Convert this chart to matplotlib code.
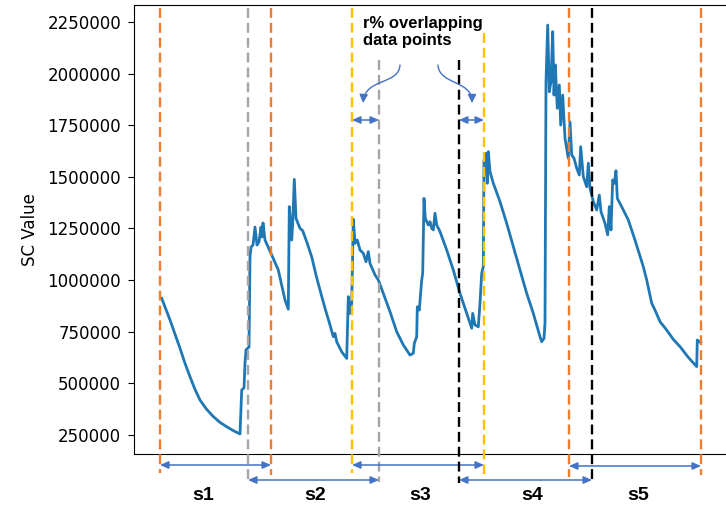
import matplotlib
matplotlib.use("Agg")
import matplotlib.pyplot as plt
import matplotlib.ticker as mticker
import matplotlib.transforms as mtransforms
from matplotlib.patches import FancyArrowPatch
from matplotlib.path import Path

# ---------------------------------------------------------------- data
# sample time and SC value of the monitored series
t = [1.7, 10, 15, 20, 25, 30, 35, 40, 46.7, 53.3, 60, 66.7, 73.3, 80,
     81.7, 84, 85, 86, 89, 90, 91, 93, 95, 97, 99, 101, 102, 103, 105,
     111.7, 118.3, 125, 128.3, 129.3, 131.7, 132.7, 134.3, 136, 140, 142.7,
     146.7, 151.7, 156, 160, 165, 170, 173.3, 175, 176.7, 181.7, 186.7,
     188.3, 190, 191.7, 193.3, 195, 197.3, 200, 203.3, 206, 208.3, 210,
     215, 218.3, 223.3, 230, 236.7, 243.3, 250, 253.3, 254.3, 256.7,
     257.3, 259.3, 261.7, 262.7, 264, 265.3, 268.3, 270, 271.7, 273.3,
     275, 276.7, 280, 286.7, 293.3, 300, 306.7, 311.7, 312.7, 315, 318.3,
     320, 321.7, 323.3, 324, 326, 327.3, 328.3, 330, 333.3, 340, 346.7,
     353.3, 360, 366.7, 373.3, 380, 381.7, 384, 385, 386, 387.7, 389.3,
     391, 392.7, 394, 395.3, 397.3, 399.3, 400.7, 402.7, 405, 408.3, 410,
     411.7, 414, 416.7, 419.3, 420.7, 423.3, 426.7, 428.3, 430, 433.3,
     436.7, 439.3, 441, 445, 447.7, 449.3, 451, 452.7, 454.3, 456, 457.3,
     463.3, 468.3, 475, 483.3, 486.7, 491.7, 495, 500, 506.7, 513.3, 520,
     528.3, 536.7, 537.3, 540.7]
sc_value = [912000, 807000, 739000, 670000, 597000, 532000, 471000, 419000,
            374000, 339000, 311000, 290000, 271000, 255000,
            468000, 478000, 599000, 662000, 676000, 1112000, 1160000,
            1170000, 1257000, 1170000, 1185000, 1257000, 1209000, 1277000,
            1194000, 1122000, 1049000, 904000, 859000, 1356000, 1194000,
            1277000, 1488000, 1299000, 1251000, 1239000, 1186000, 1113000,
            1025000, 952000, 864000, 783000, 726000, 742000, 702000, 653000,
            621000, 920000, 839000, 888000, 1295000, 1178000, 1194000,
            1146000, 1130000, 1089000, 1138000, 1081000, 1025000, 1001000,
            936000, 847000, 750000, 686000, 637000, 646000, 694000, 726000,
            871000, 855000, 1001000, 1033000, 1396000, 1299000, 1267000,
            1283000, 1251000, 1243000, 1324000, 1267000, 1235000, 1146000,
            1049000, 936000, 839000, 767000, 839000, 783000, 774000, 888000,
            1033000, 1065000, 1582000, 1614000, 1469000, 1622000, 1525000,
            1469000, 1380000, 1275000, 1162000, 1049000, 936000, 839000,
            726000, 702000, 718000, 791000, 1961000, 2235000, 1912000,
            1961000, 2203000, 1896000, 2042000, 1832000, 1945000, 1751000,
            1896000, 1687000, 1590000, 1767000, 1606000, 1590000, 1542000,
            1509000, 1646000, 1501000, 1452000, 1566000, 1445000, 1380000,
            1340000, 1412000, 1331000, 1275000, 1219000, 1356000, 1243000,
            1485000, 1469000, 1530000, 1396000, 1340000, 1291000, 1194000,
            1065000, 1001000, 888000, 855000, 799000, 758000, 713000, 678000,
            626000, 581000, 710000, 697000]

# sliding windows (start / end sample)
window_names = ["s1", "s2", "s3", "s4", "s5"]
window_start = [0, 88, 192, 299, 409]
window_end = [111, 219, 324, 432, 541]

# ---------------------------------------------------------------- styling
W, H = 726, 507
AX_L, AX_T, AX_B = 134, 5, 454.3          # axes frame in pixels
XLIM = (-26, 566)
YLIM = (156500, 2332300)

window_colors = ["#ED7D31", "#A5A5A5", "#FFC000", "#000000", "#ED7D31"]
# vertical extent (top, bottom in pixels) of the start / end line of each window
line_extent = [((8, 473), (8, 475)),
               ((8, 480), (60, 482)),
               ((8, 473), (33, 475)),
               ((60, 483), (8, 480)),
               ((8, 477), (8, 475))]
arrow_row = [465, 480, 465, 480, 466]
label_x = [43, 155, 260, 372, 478]
label_row = 496
ARROW_BLUE = "#4472C4"


def ay(py):
    """pixel row -> axes fraction"""
    return (AX_B - py) / (AX_B - AX_T)


def fx(px):
    return px / W


def fy(py):
    return 1 - py / H


fig = plt.figure(figsize=(W / 100, H / 100), dpi=100)
ax = fig.add_axes([fx(AX_L), fy(AX_B), 1 - fx(AX_L), (AX_B - AX_T) / H])

ax.plot(t, sc_value, color="#1F77B4", lw=2.0, zorder=2)

ax.set_xlim(*XLIM)
ax.set_ylim(*YLIM)
ax.set_xticks([])
ax.set_yticks([250000, 500000, 750000, 1000000, 1250000, 1500000,
               1750000, 2000000, 2250000])
ax.yaxis.set_major_formatter(mticker.FuncFormatter(lambda v, p: f"{int(v)}"))
ax.tick_params(axis="y", labelsize=12, length=4.2, pad=5)
ax.spines["right"].set_visible(False)
ax.set_ylabel("SC Value", fontsize=12)
ax.yaxis.set_label_coords(-0.16, 0.5)

trans = mtransforms.blended_transform_factory(ax.transData, ax.transAxes)

arrow_kw = dict(arrowstyle="<|-|>,head_length=0.5,head_width=0.22",
                color=ARROW_BLUE, lw=1.1, shrinkA=0, shrinkB=0,
                mutation_scale=10)

for i, name in enumerate(window_names):
    c = window_colors[i]
    for x, (top, bot) in zip((window_start[i], window_end[i]), line_extent[i]):
        ax.plot([x, x], [ay(top), ay(bot)], transform=trans, color=c,
                lw=1.7, dashes=(4.2, 2.1), clip_on=False, zorder=3)
    yy = ay(arrow_row[i])
    ax.annotate("", xy=(window_end[i], yy), xytext=(window_start[i], yy),
                xycoords=trans, textcoords=trans, arrowprops=arrow_kw,
                annotation_clip=False)
    ax.text(label_x[i], ay(label_row), name, transform=trans, ha="center",
            va="center", fontsize=14, fontweight="bold",
            family="Liberation Sans")

# overlap markers between consecutive windows
overlaps = [(window_start[2], window_end[1]), (window_start[3], window_end[2])]
for a, b in overlaps:
    ax.annotate("", xy=(b, ay(120)), xytext=(a, ay(120)), xycoords=trans,
                textcoords=trans, arrowprops=arrow_kw, annotation_clip=False)

fig.text(fx(363), fy(16), "r% overlapping\ndata points", ha="left", va="top",
         fontsize=12, fontweight="bold", family="Liberation Sans",
         linespacing=1.15)

curves = [[(400, 65), (399, 85), (365, 78), (363, 103)],
          [(438, 65), (439, 85), (472, 80), (472, 103)]]
for pts in curves:
    path = Path([(fx(x), fy(y)) for x, y in pts],
                [Path.MOVETO, Path.CURVE4, Path.CURVE4, Path.CURVE4])
    fig.add_artist(FancyArrowPatch(path=path, transform=fig.transFigure,
                                   arrowstyle="-|>,head_length=0.5,head_width=0.25",
                                   mutation_scale=10, color=ARROW_BLUE, lw=1.0))

fig.savefig("out.png", dpi=100)
